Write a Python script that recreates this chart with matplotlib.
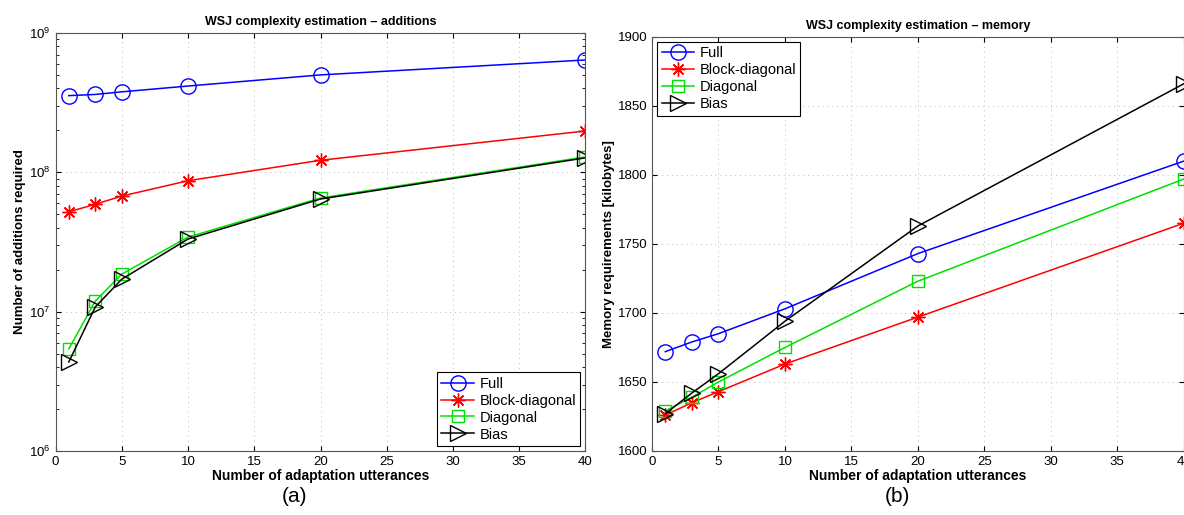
import numpy as np
import matplotlib
matplotlib.use('Agg')
import matplotlib.pyplot as plt

plt.rcParams['font.family'] = ['Liberation Sans', 'DejaVu Sans']
plt.rcParams['mathtext.fontset'] = 'custom'
plt.rcParams['mathtext.rm'] = 'Liberation Sans'

# number of adaptation utterances
utts = [1, 3, 5, 10, 20, 40]
names = ['Full', 'Block-diagonal', 'Diagonal', 'Bias']

# (a) additions required
add_full = [3.55e8, 3.62e8, 3.78e8, 4.16e8, 5.0e8, 6.4e8]
add_block = [5.2e7, 5.9e7, 6.75e7, 8.7e7, 1.22e8, 1.98e8]
add_diag = [5.4e6, 1.19e7, 1.86e7, 3.43e7, 6.54e7, 1.29e8]
add_bias = [4.35e6, 1.08e7, 1.71e7, 3.32e7, 6.43e7, 1.27e8]

# (b) memory [kilobytes]
mem_full = [1672, 1679, 1685, 1703, 1743, 1810]
mem_block = [1626, 1635, 1643, 1663, 1697, 1765]
mem_diag = [1629, 1639, 1650, 1675, 1723, 1797]
mem_bias = [1627, 1642, 1656, 1694, 1763, 1866]

styles = [dict(color='#0000ff', marker='o', ms=11),
          dict(color='#ff0000', marker=(8, 2, 0), ms=10),
          dict(color='#00e000', marker='s', ms=9),
          dict(color='#000000', marker='>', ms=11)]


def draw(ax, series, title, ylabel, loc):
    for vals, name, st in zip(series, names, styles):
        ax.plot(utts, vals, color=st['color'], marker=st['marker'], ms=st['ms'],
                mfc='none', mec=st['color'], mew=1.0, lw=1.1, label=name)
    ax.set_xlim(0, 40)
    ax.set_xticks(range(0, 41, 5))
    ax.set_title(title, fontsize=9, fontweight='bold', pad=6)
    ax.set_xlabel('Number of adaptation utterances', fontsize=10, fontweight='bold', labelpad=1)
    ax.set_ylabel(ylabel, fontsize=9.5, fontweight='bold', labelpad=2)
    ax.tick_params(direction='in', which='both', top=True, right=True, labelsize=9.5)
    ax.grid(True, which='major', ls=(0, (1, 4)), color='#bbbbbb', lw=0.7)
    for s in ax.spines.values():
        s.set_color('#555555')
    leg = ax.legend(loc=loc, fontsize=10.5, fancybox=False, framealpha=1,
                    edgecolor='black', handlelength=2.2, borderpad=0.3,
                    labelspacing=0.2, handletextpad=0.4, borderaxespad=0.35)
    leg.get_frame().set_linewidth(0.8)


fig = plt.figure(figsize=(11.84, 5.15), dpi=100)
ax1 = fig.add_axes([0.0469, 0.1243, 0.4476, 0.8117])
ax1.set_yscale('log')
draw(ax1, [add_full, add_block, add_diag, add_bias],
     'WSJ complexity estimation \u2013 additions', 'Number of additions required', 'lower right')
ax1.set_ylim(1e6, 1e9)

ax2 = fig.add_axes([0.5507, 0.1243, 0.449, 0.804])
draw(ax2, [mem_full, mem_block, mem_diag, mem_bias],
     'WSJ complexity estimation \u2013 memory', 'Memory requirements [kilobytes]', 'upper left')
ax2.set_ylim(1600, 1900)
ax2.set_yticks(range(1600, 1901, 50))

fig.text(0.249, 0.025, '(a)', fontsize=15, ha='center')
fig.text(0.758, 0.025, '(b)', fontsize=15, ha='center')

fig.savefig('out.png', dpi=100)
